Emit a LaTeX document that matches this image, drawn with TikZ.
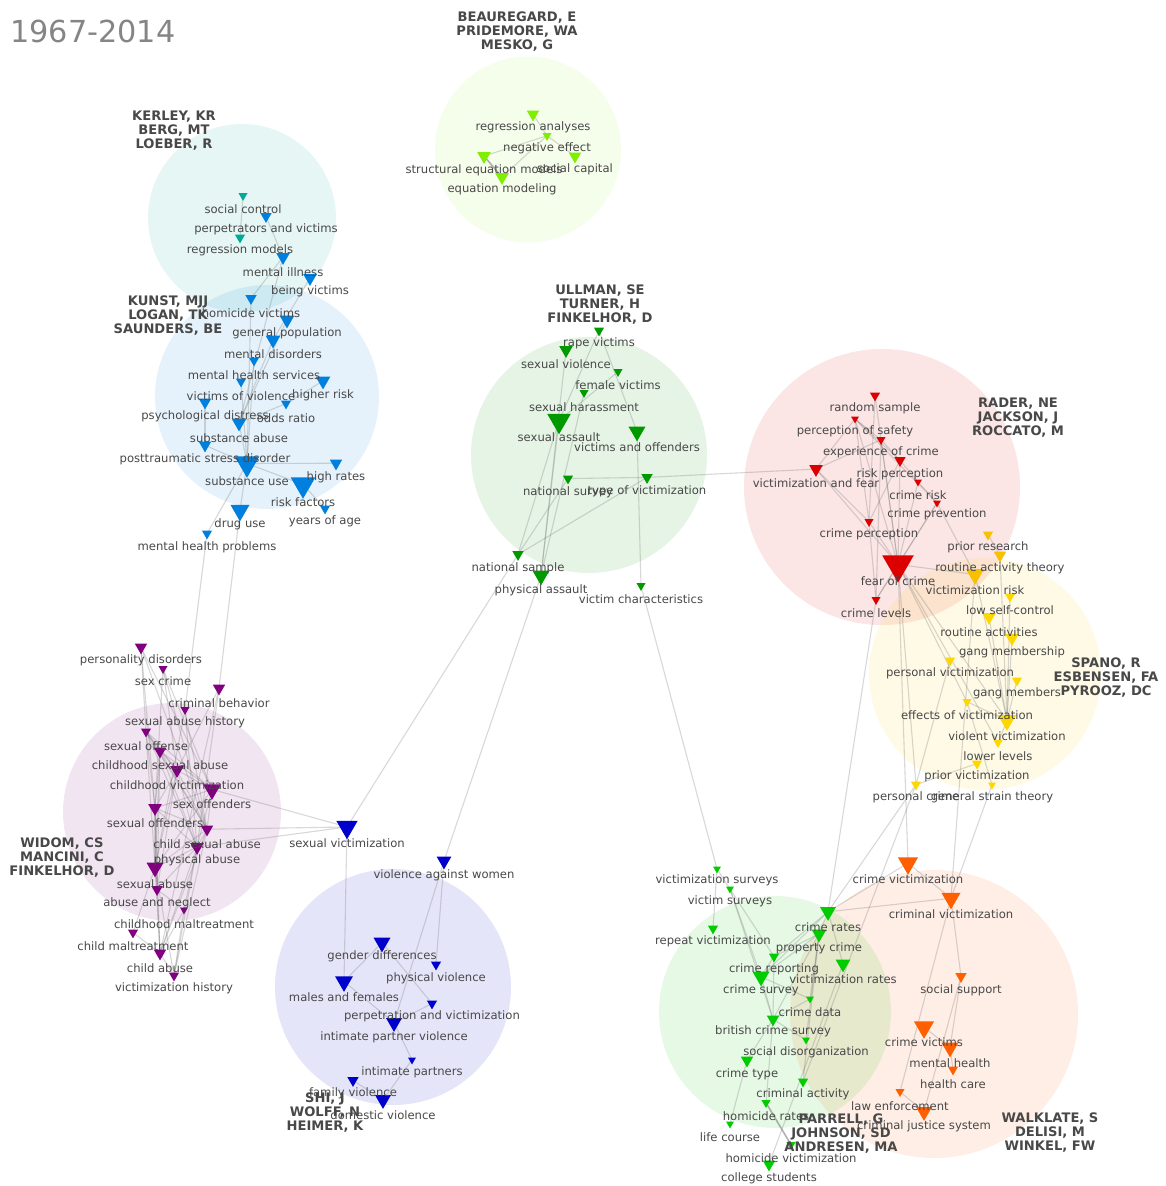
\documentclass[tikz,border=0pt]{standalone}
\usepackage{fontspec}
\setmainfont{DejaVu Sans}
\usetikzlibrary{shapes.geometric}
\pgfdeclarelayer{back}\pgfdeclarelayer{edges}\pgfdeclarelayer{labels}
\pgfsetlayers{back,edges,main,labels}
\definecolor{cTeal}{HTML}{00AA96}\definecolor{cBlue}{HTML}{0080DE}
\definecolor{cPurp}{HTML}{800080}\definecolor{cNavy}{HTML}{0000CC}
\definecolor{cDgreen}{HTML}{009900}\definecolor{cGreen}{HTML}{00CC00}
\definecolor{cRed}{HTML}{DD0000}\definecolor{cYel}{HTML}{FFD700}
\definecolor{cAmb}{HTML}{F8C000}\definecolor{cOra}{HTML}{FF5F00}
\definecolor{cLime}{HTML}{80EE00}\definecolor{cTxt}{HTML}{484848}
\tikzset{
 tri/.style={regular polygon,regular polygon sides=3,shape border rotate=180,inner sep=0pt,outer sep=0pt,draw=none},
 kwlabel/.style={inner sep=0pt,text=cTxt,font=\fontsize{11.6}{13}\selectfont},
 authors/.style={inner sep=0pt,align=center,text=cTxt,font=\fontsize{13.1}{14}\selectfont\bfseries},
 link/.style={draw=black!60,line width=1.1pt,draw opacity=0.25},
 heavylink/.style={draw=black!60,line width=1.6pt,draw opacity=0.5},
 blob/.style={circle,inner sep=0pt,fill opacity=0.1},
}
\newcommand{\kw}[7]{%
 \node[tri,fill=#5,minimum size={#4*1.3}] (#1) at (#2,{#3-#4*0.16}) {};
 \begin{pgfonlayer}{labels}\node[kwlabel] (#1l) at (#2,#7+0.8) {#6};\end{pgfonlayer}}
\newcommand{\blobat}[5]{\node[blob,fill=#5,minimum size={2*#4}] (#1) at (#2,#3) {};}
\begin{document}
\begin{tikzpicture}[x=1pt,y=-1pt]
\useasboundingbox (0,0) rectangle (1166,1186);
\begin{pgfonlayer}{back}
\fill[white] (0,0) rectangle (1166,1186);
\node[blob,fill=cLime,fill opacity=0.08,minimum size=186] (bLime) at (528,149.5) {};
\blobat{bTeal}{242}{218}{94}{cTeal}
\blobat{bBlue}{267}{397}{112}{cBlue}
\blobat{bDg}{589}{455}{118}{cDgreen}
\blobat{bRed}{882}{487}{138}{cRed}
\blobat{bYel}{985}{674}{116}{cYel}
\blobat{bPur}{172}{812}{109}{cPurp}
\blobat{bNav}{393}{987}{118}{cNavy}
\blobat{bGr}{775}{1012}{116}{cGreen}
\blobat{bOr}{934}{1014}{144}{cOra}
\end{pgfonlayer}
\node[inner sep=0pt,anchor=west,text=black!48,font=\fontsize{30.3}{32}\selectfont] (title) at (10,31) {1967-2014};
% authors
\begin{pgfonlayer}{labels}
\node[authors] (a1) at (517,32) {BEAUREGARD, E\\PRIDEMORE, WA\\MESKO, G};
\node[authors] (a2) at (174,131) {KERLEY, KR\\BERG, MT\\LOEBER, R};
\node[authors] (a3) at (168,316) {KUNST, MJJ\\LOGAN, TK\\SAUNDERS, BE};
\node[authors] (a4) at (600,305) {ULLMAN, SE\\TURNER, H\\FINKELHOR, D};
\node[authors] (a5) at (1018,418) {RADER, NE\\JACKSON, J\\ROCCATO, M};
\node[authors] (a6) at (1106,678) {SPANO, R\\ESBENSEN, FA\\PYROOZ, DC};
\node[authors] (a7) at (62,858) {WIDOM, CS\\MANCINI, C\\FINKELHOR, D};
\node[authors] (a8) at (325,1113) {SHI, J\\WOLFF, N\\HEIMER, K};
\node[authors] (a9) at (841,1133.5) {PARRELL, G\\JOHNSON, SD\\ANDRESEN, MA};
\node[authors] (a10) at (1050,1133) {WALKLATE, S\\DELISI, M\\WINKEL, FW};
\end{pgfonlayer}
% lime
\kw{ra}{533}{116}{11}{cLime}{regression analyses}{126}
\kw{ne}{547}{137}{8}{cLime}{negative effect}{147}
\kw{sc}{575}{158}{11}{cLime}{social capital}{168}
\kw{sem}{484}{158}{12}{cLime}{structural equation models}{169}
\kw{em}{502}{179}{12}{cLime}{equation modeling}{188}
% teal and blue
\kw{soc}{243}{197}{8}{cTeal}{social control}{208}
\kw{pv}{266}{218}{10}{cBlue}{perpetrators and victims}{228}
\kw{rm}{240}{239}{9}{cTeal}{regression models}{249}
\kw{mi}{283}{259}{12}{cBlue}{mental illness}{271}
\kw{bv}{310}{280}{12}{cBlue}{being victims}{290}
\kw{hv}{251}{300}{10}{cBlue}{homicide victims}{312}
\kw{gp}{287}{322}{13}{cBlue}{general population}{332}
\kw{md}{273}{342}{13}{cBlue}{mental disorders}{353}
\kw{mhs}{254}{362}{9}{cBlue}{mental health services}{374}
\kw{vv}{241}{383}{9}{cBlue}{victims of violence}{395}
\kw{hr}{323}{383}{13}{cBlue}{higher risk}{394}
\kw{pd}{205}{404}{11}{cBlue}{psychological distress}{415}
\kw{or}{286}{405}{9}{cBlue}{odds ratio}{417}
\kw{sab}{239}{425}{13}{cBlue}{substance abuse}{437}
\kw{ptsd}{205}{447}{11}{cBlue}{posttraumatic stress disorder}{458}
\kw{su}{247}{467}{22}{cBlue}{substance use}{480}
\kw{hra}{336}{465}{11}{cBlue}{high rates}{476}
\kw{rf}{303}{488}{22}{cBlue}{risk factors}{501}
\kw{du}{240}{513}{17}{cBlue}{drug use}{523}
\kw{ya}{325}{510}{9}{cBlue}{years of age}{520}
\kw{mhp}{207}{535}{9}{cBlue}{mental health problems}{546}
% ullman
\kw{rv}{599}{332}{9}{cDgreen}{rape victims}{342}
\kw{sv}{566}{352}{12}{cDgreen}{sexual violence}{363}
\kw{fv}{618}{373}{8}{cDgreen}{female victims}{384}
\kw{sh}{584}{394}{8}{cDgreen}{sexual harassment}{406}
\kw{sa}{559}{424}{21}{cDgreen}{sexual assault}{436}
\kw{vo}{637}{434}{15}{cDgreen}{victims and offenders}{446}
\kw{ns}{568}{480}{9}{cDgreen}{national survey}{491}
\kw{tv}{647}{479}{10}{cDgreen}{type of victimization}{490}
\kw{nsa}{518}{556}{10}{cDgreen}{national sample}{567}
\kw{pa}{541}{578}{15}{cDgreen}{physical assault}{589}
\kw{vc}{641}{587}{8}{cDgreen}{victim characteristics}{598}
% red
\kw{rs}{875}{397}{9}{cRed}{random sample}{407}
\kw{ps}{855}{420}{7}{cRed}{perception of safety}{430}
\kw{ec}{881}{441}{8}{cRed}{experience of crime}{451}
\kw{rp}{900}{462}{10}{cRed}{risk perception}{473}
\kw{vf}{816}{471}{12}{cRed}{victimization and fear}{482}
\kw{cr}{918}{483}{7}{cRed}{crime risk}{494}
\kw{cpv}{937}{504}{7}{cRed}{crime prevention}{513}
\kw{cp}{869}{523}{8}{cRed}{crime perception}{533}
\kw{fc}{898}{569}{28}{cRed}{fear of crime}{580}
\kw{cl}{876}{601}{8}{cRed}{crime levels}{612}
% yellow
\kw{pr}{988}{536}{9}{cAmb}{prior research}{546}
\kw{rat}{1000}{557}{11}{cAmb}{routine activity theory}{567}
\kw{vr}{975}{577}{16}{cAmb}{victimization risk}{589}
\kw{lsc}{1010}{598}{9}{cYel}{low self-control}{609}
\kw{rta}{989}{619}{12}{cYel}{routine activities}{631}
\kw{gm}{1012}{640}{12}{cYel}{gang membership}{651}
\kw{pvi}{950}{662}{9}{cYel}{personal victimization}{672}
\kw{gms}{1017}{682}{9}{cYel}{gang members}{692}
\kw{ev}{967}{703}{8}{cYel}{effects of victimization}{714}
\kw{vvi}{1007}{723}{16}{cYel}{violent victimization}{735}
\kw{ll}{998}{744}{8}{cYel}{lower levels}{755}
\kw{pri}{977}{765}{9}{cYel}{prior victimization}{775}
\kw{pc}{916}{786}{9}{cYel}{personal crime}{796}
\kw{gst}{992}{786}{7}{cYel}{general strain theory}{796}
% purple
\kw{pdi}{141}{649}{11}{cPurp}{personality disorders}{659}
\kw{scr}{163}{670}{8}{cPurp}{sex crime}{680}
\kw{cb}{219}{690}{11}{cPurp}{criminal behavior}{702}
\kw{sah}{185}{711}{8}{cPurp}{sexual abuse history}{721}
\kw{sof}{146}{733}{9}{cPurp}{sexual offense}{745}
\kw{chsa}{160}{753}{11}{cPurp}{childhood sexual abuse}{764}
\kw{chv}{177}{772}{12}{cPurp}{childhood victimization}{784}
\kw{sxo}{212}{792}{16}{cPurp}{sex offenders}{803}
\kw{sxf}{155}{810}{12}{cPurp}{sexual offenders}{822}
\kw{csa}{207}{831}{11}{cPurp}{child sexual abuse}{843}
\kw{phy}{197}{849}{12}{cPurp}{physical abuse}{859}
\kw{sxa}{155}{870}{15}{cPurp}{sexual abuse}{883}
\kw{abn}{157}{891}{10}{cPurp}{abuse and neglect}{902}
\kw{chm}{184}{911}{7}{cPurp}{childhood maltreatment}{923}
\kw{cmt}{133}{934}{9}{cPurp}{child maltreatment}{945}
\kw{cab}{160}{955}{11}{cPurp}{child abuse}{967}
\kw{vh}{174}{977}{9}{cPurp}{victimization history}{987}
% navy
\kw{svi}{347}{830}{19}{cNavy}{sexual victimization}{842}
\kw{vaw}{444}{863}{13}{cNavy}{violence against women}{874}
\kw{gd}{382}{945}{15}{cNavy}{gender differences}{955}
\kw{pvl}{436}{966}{9}{cNavy}{physical violence}{977}
\kw{mf}{344}{984}{16}{cNavy}{males and females}{996}
\kw{ptv}{432}{1005}{9}{cNavy}{perpetration and victimization}{1015}
\kw{ipv}{394}{1025}{14}{cNavy}{intimate partner violence}{1036}
\kw{ip}{412}{1061}{7}{cNavy}{intimate partners}{1071}
\kw{fam}{353}{1082}{10}{cNavy}{family violence}{1092}
\kw{dv}{383}{1102}{14}{cNavy}{domestic violence}{1114}
% green
\kw{vsu}{717}{870}{7}{cGreen}{victimization surveys}{879}
\kw{vis}{730}{890}{7}{cGreen}{victim surveys}{900}
\kw{rev}{713}{930}{9}{cGreen}{repeat victimization}{940}
\kw{cra}{828}{914}{14}{cGreen}{crime rates}{926}
\kw{pcr}{819}{936}{13}{cGreen}{property crime}{947}
\kw{crp}{774}{958}{9}{cGreen}{crime reporting}{968}
\kw{vra}{843}{966}{13}{cGreen}{victimization rates}{978}
\kw{csu}{761}{979}{15}{cGreen}{crime survey}{989}
\kw{cda}{810}{1000}{7}{cGreen}{crime data}{1011}
\kw{bcs}{773}{1021}{11}{cGreen}{british crime survey}{1030}
\kw{sdi}{806}{1041}{7}{cGreen}{social disorganization}{1051}
\kw{cty}{747}{1062}{11}{cGreen}{crime type}{1073}
\kw{cac}{803}{1083}{9}{cGreen}{criminal activity}{1093}
\kw{hra2}{766}{1104}{8}{cGreen}{homicide rates}{1115}
\kw{lc}{730}{1125}{7}{cGreen}{life course}{1136}
\kw{hvi}{791}{1146}{8}{cGreen}{homicide victimization}{1157}
\kw{cst}{769}{1166}{11}{cGreen}{college students}{1177}
% orange
\kw{cvn}{908}{866}{18}{cOra}{crime victimization}{878}
\kw{cvi}{951}{901}{17}{cOra}{criminal victimization}{913}
\kw{ssu}{961}{978}{10}{cOra}{social support}{989}
\kw{cvc}{924}{1030}{18}{cOra}{crime victims}{1041}
\kw{mh}{950}{1050}{15}{cOra}{mental health}{1062}
\kw{hc}{953}{1071}{9}{cOra}{health care}{1083}
\kw{le}{900}{1093}{8}{cOra}{law enforcement}{1105}
\kw{cjs}{924}{1114}{14}{cOra}{criminal justice system}{1125}
% edges
\begin{pgfonlayer}{edges}
\foreach \p/\q in {ra/ne,ne/sc,ne/sem,ne/em,
 soc/rm,pv/mi,mi/hv,mi/sab,bv/md,md/sab,hv/su,gp/sab,mhs/su,vv/su,pd/ptsd,hr/or,or/sab,sab/su,ptsd/su,su/hra,su/rf,su/du,su/mhp,rf/ya,mhp/sah,du/cb,
 pdi/sof,pdi/sxf,pdi/csa,pdi/sxo,scr/sxf,scr/chv,scr/sxo,scr/csa,cb/phy,cb/cab,cb/chv,sah/sxa,sah/phy,sah/csa,
 sof/sxo,sof/sxf,sof/csa,sof/chsa,sof/chv,sof/phy,sof/sxa,chsa/chv,chsa/sxo,chsa/sxf,chsa/csa,chsa/phy,chsa/sxa,chsa/abn,chv/sxo,chv/sxf,chv/csa,chv/phy,chv/sxa,chv/abn,
 sxf/csa,sxf/phy,sxf/sxa,sxf/sxo,sxf/abn,sxf/cab,sxo/csa,sxo/phy,sxo/sxa,csa/phy,csa/sxa,csa/cab,csa/vh,phy/sxa,phy/abn,phy/cab,phy/vh,phy/chm,sxa/abn,sxa/cab,sxa/vh,sxa/cmt,abn/cab,abn/chm,cmt/cab,cab/vh,chm/cab,chm/vh,
 svi/sxo,svi/csa,svi/phy,svi/mf,svi/nsa,vaw/pa,vaw/pvl,vaw/ipv,gd/mf,gd/ptv,mf/ipv,ptv/ipv,ipv/ip,ip/dv,fam/dv,
 rv/vo,rv/sa,sv/pa,fv/sa,sh/pa,sa/nsa,sa/pa,vo/vc,ns/nsa,ns/tv,tv/nsa,tv/vf,vc/vsu,
 rs/cp,rs/fc,ps/ec,ps/rp,ps/cpv,ps/fc,ps/vf,ps/cp,ec/rp,ec/vf,ec/fc,ec/cl,rp/cr,rp/fc,rp/cp,cr/cpv,cr/fc,cpv/fc,cpv/cl,cpv/vr,vf/cp,vf/fc,cp/fc,cp/cl,fc/cl,cl/cra,fc/vr,fc/pc,fc/cvn,fc/vvi,fc/ev,fc/ll,
 pr/rat,rat/vvi,vr/vvi,vr/cvi,lsc/vvi,rta/vvi,gm/vvi,gms/vvi,pvi/pc,pc/pri,pc/cra,pc/cac,ev/vvi,ev/gst,vvi/ll,gst/cvi,
 cvn/cvi,cvn/cra,cvi/cra,cvi/ssu,cvi/le,ssu/mh,ssu/cjs,cvc/mh,mh/hc,le/cjs,
 vsu/rev,vsu/vis,vis/crp,vis/csu,vis/bcs,cra/pcr,cra/crp,cra/csu,cra/vra,pcr/crp,pcr/csu,pcr/bcs,pcr/cda,pcr/sdi,pcr/cac,csu/crp,csu/cda,csu/bcs,cda/bcs,crp/bcs,bcs/sdi,bcs/cty,bcs/hra2,cty/lc,vra/cst}{
 \draw[link] (\p.center) -- (\q.center);
}
\foreach \p/\q in {sem/em,hra2/hvi}{
 \draw[heavylink] (\p.center) -- (\q.center);
}
\end{pgfonlayer}
\end{tikzpicture}
\end{document}
